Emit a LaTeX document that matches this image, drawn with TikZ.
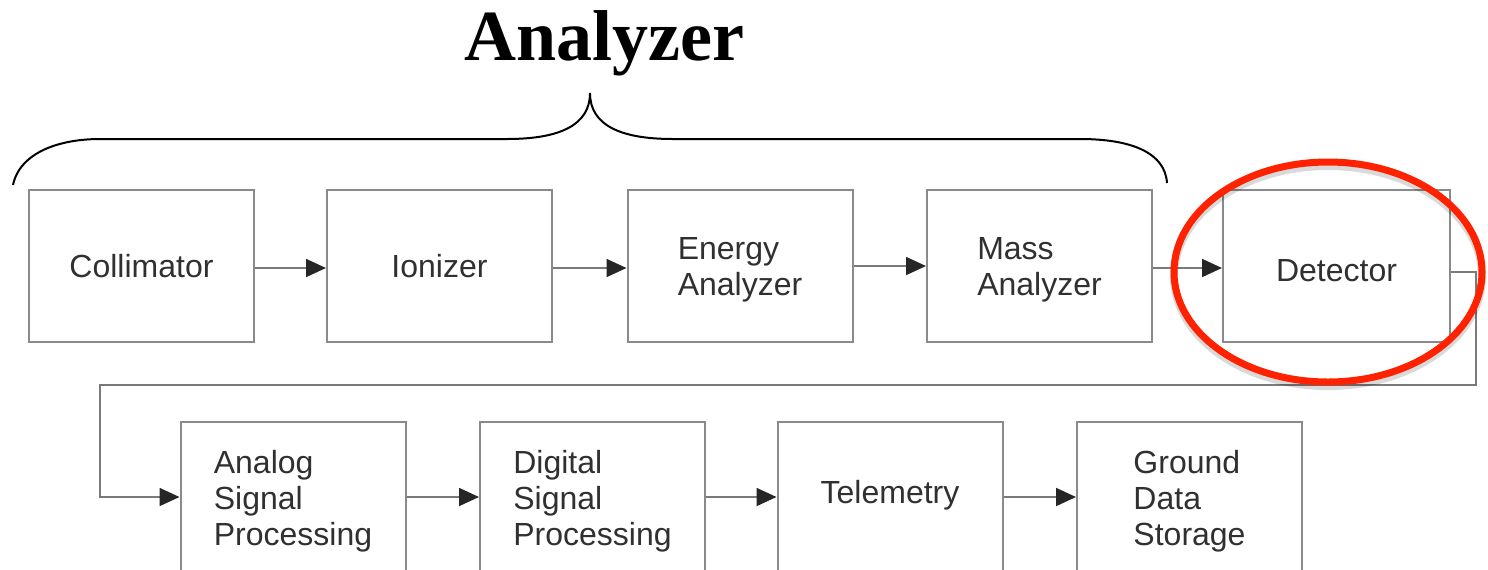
\documentclass[tikz,border=0pt]{standalone}
\usepackage{fontspec}
\setmainfont{Liberation Sans}
\newfontfamily\titlefont{Liberation Serif}
\usetikzlibrary{arrows.meta}
\definecolor{boxline}{HTML}{8A8A8A}
\definecolor{wireline}{HTML}{7A7A7A}
\definecolor{labeltext}{HTML}{303030}
\definecolor{markred}{HTML}{FF2200}
% shift a label vertically without changing the size the node sees
\newcommand{\nudge}[2]{\raisebox{#1}[\height][\depth]{#2}}
% stacked label lines, left aligned, nudged slightly downward
\newcommand{\stackedlines}[2][-2.5pt]{\nudge{#1}{\begin{tabular}{@{}l@{}}#2\end{tabular}}}
\tikzset{
  blockbox/.style={draw=boxline, line width=1pt, minimum width=112.5pt,
    minimum height=76pt, text=labeltext,
    font=\fontsize{16}{18}\selectfont, inner sep=0pt},
  lowbox/.style={blockbox, minimum height=75pt},
  flow/.style={draw=wireline, line width=0.9pt,
    -{Triangle[length=10pt, width=9pt, color=black!85]}},
}
\begin{document}
\begin{tikzpicture}[x=0.5pt, y=-0.5pt]
\useasboundingbox (0,0) rectangle (1488,569);
\clip (0,0) rectangle (1488,569);

% title and brace over the analyzer stages
\node[anchor=base, font=\titlefont\bfseries\fontsize{36}{40}\selectfont] (title) at (604,60) {Analyzer};
\draw[line width=1pt, black]
  (13,185) .. controls (20,152) and (60,139) .. (100,139) -- (507,139)
  .. controls (560,139) and (590,125) .. (590,93)
  .. controls (590,125) and (620,139) .. (673,139) -- (1080,139)
  .. controls (1130,139) and (1165,152) .. (1167,183);

% first row
\node[blockbox] (coll)   at (141.5,266) {Collimator};
\node[blockbox] (ion)    at (439.5,266) {Ionizer};
\node[blockbox] (energy) at (740,266)   {\stackedlines[-2pt]{Energy\\Analyzer}};
\node[blockbox] (mass)   at (1039.5,266) {\stackedlines[-2pt]{Mass\\Analyzer}};
\node[blockbox, minimum width=113.5pt] (det) at (1336.5,266) {\nudge{-2.5pt}{Detector}};

% second row
\node[lowbox] (analog)  at (293,497)    {\stackedlines{Analog\\Signal\\Processing}};
\node[lowbox] (digital) at (592.5,497)  {\stackedlines{Digital\\Signal\\Processing}};
\node[lowbox] (tele)    at (890,497)    {\nudge{1pt}{Telemetry}};
\node[lowbox] (ground)  at (1189.5,497) {\stackedlines{Ground\\Data\\Storage}};

% connectors
\draw[flow] (coll.east |- 0,268) -- (ion.west |- 0,268);
\draw[flow] (ion.east |- 0,268) -- (energy.west |- 0,268);
\draw[flow] (energy.east |- 0,266) -- (mass.west |- 0,266);
\draw[flow] (mass.east |- 0,268) -- (det.west |- 0,268);

\coordinate (turnR) at (1476,385);
\coordinate (turnL) at (100,385);
\draw[flow] (det.east |- 0,272) -| (turnR) -- (turnL) |- (analog.west);

\draw[flow] (analog.east) -- (digital.west);
\draw[flow] (digital.east) -- (tele.west);
\draw[flow] (tele.east) -- (ground.west);

% highlight around the detector
\draw[black, opacity=0.15, line width=4pt] (1328,276) ellipse [x radius=77pt, y radius=55pt];
\draw[markred, line width=3.5pt] (1328,272) ellipse [x radius=77pt, y radius=55pt];
\end{tikzpicture}
\end{document}
